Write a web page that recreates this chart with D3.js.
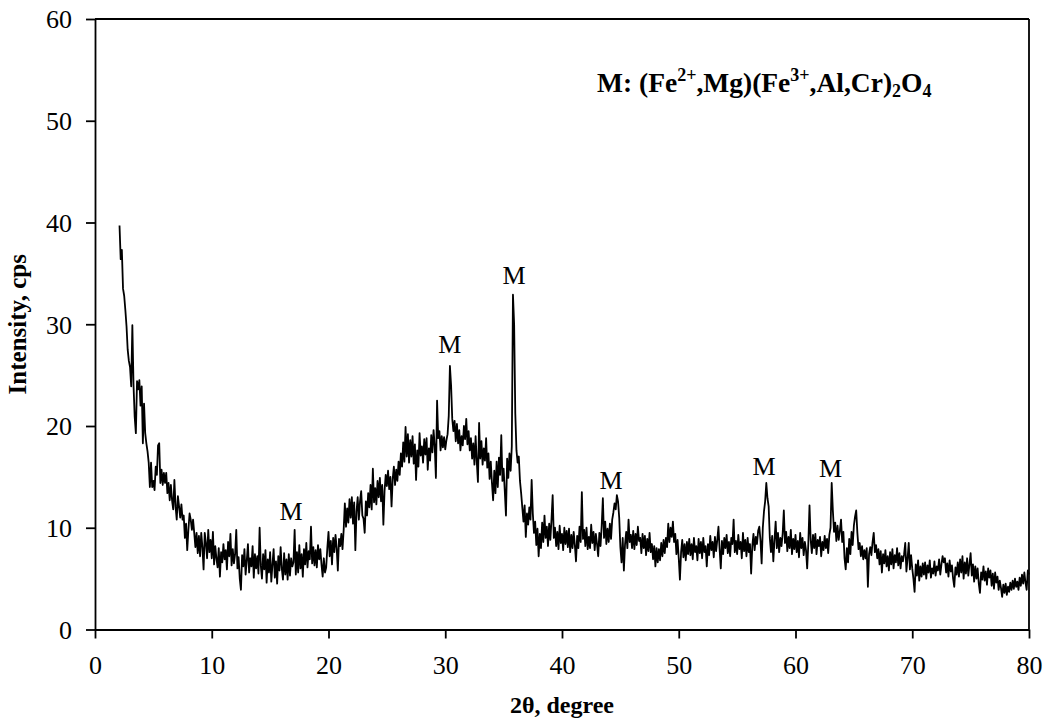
<!DOCTYPE html>
<html><head><meta charset="utf-8">
<script src="https://cdn.jsdelivr.net/npm/d3@7"></script>
<style>body{margin:0;background:#fff} svg{display:block}</style>
</head><body><svg id="c" width="1045" height="722"></svg>
<script>
const xTicks = [0,10,20,30,40,50,60,70,80];
const yTicks = [0,10,20,30,40,50,60];
const xTitle = "2θ, degree";
const yTitle = "Intensity, cps";
const angleStart = 2.1, angleStep = 0.1;
const intensity = [
/* 2.1 */ 39.7,36.4,37.3,33.5,32.8,31.4,29.8,27.5,26.4,
/* 3 */ 25.8,23.9,29.9,24.0,20.9,19.3,24.4,23.6,24.5,22.0,
/* 4 */ 23.9,18.3,22.2,19.3,18.3,17.5,16.4,14.0,16.4,14.0,
/* 5 */ 14.6,13.7,16.0,15.2,18.1,18.3,14.4,15.7,14.2,15.4,
/* 6 */ 14.4,15.4,13.4,14.4,12.7,14.2,12.7,11.8,14.7,12.1,
/* 7 */ 10.8,13.1,12.1,11.0,12.3,10.8,11.2,9.0,10.4,7.8,
/* 8 */ 9.8,11.4,10.8,9.8,10.8,9.5,8.1,9.5,7.5,9.2,
/* 9 */ 7.2,9.5,8.1,5.9,9.5,8.5,7.0,9.8,7.6,8.8,
/* 10 */ 7.0,9.6,6.4,8.2,7.0,6.1,8.0,5.2,7.6,6.6,
/* 11 */ 8.4,6.9,7.8,5.9,8.6,7.2,9.4,6.3,7.9,6.5,
/* 12 */ 7.4,9.8,6.0,7.1,5.0,3.9,7.3,6.2,7.9,5.4,
/* 13 */ 6.8,8.4,5.6,7.0,6.2,8.2,5.1,7.4,6.0,7.2,
/* 14 */ 5.5,10.0,6.3,5.0,7.4,5.9,7.8,4.6,6.9,5.6,
/* 15 */ 7.6,4.7,6.4,7.9,5.1,6.7,4.5,7.2,5.8,8.1,
/* 16 */ 6.0,4.9,7.5,5.4,6.9,4.9,7.4,5.3,7.0,6.2,
/* 17 */ 6.6,9.8,5.4,7.6,5.6,8.3,6.0,7.4,5.2,7.9,
/* 18 */ 6.4,8.5,6.1,7.7,6.9,10.1,6.5,8.1,6.3,7.8,
/* 19 */ 6.1,8.3,6.9,7.9,6.4,5.2,7.0,5.6,6.1,8.0,
/* 20 */ 9.6,7.2,8.7,6.4,9.0,7.6,9.3,8.0,5.8,8.9,
/* 21 */ 8.2,9.4,7.9,9.8,12.4,10.1,11.9,10.5,12.8,11.0,
/* 22 */ 13.0,10.4,12.5,7.8,11.6,13.0,10.8,12.6,13.6,11.2,
/* 23 */ 10.9,9.5,12.6,11.2,13.4,12.0,14.2,11.8,15.8,12.5,
/* 24 */ 13.9,12.3,14.6,13.0,14.9,12.6,14.2,10.3,13.6,15.2,
/* 25 */ 14.1,15.6,13.8,15.0,12.1,14.8,16.0,14.2,15.7,14.6,
/* 26 */ 16.5,15.2,17.3,16.0,18.4,16.5,19.9,17.0,19.2,16.4,
/* 27 */ 18.6,17.0,19.0,16.3,18.2,14.7,17.6,16.0,19.3,17.1,
/* 28 */ 18.0,16.4,18.7,17.2,18.8,15.7,17.8,16.6,19.1,17.4,
/* 29 */ 19.6,18.0,14.9,22.5,18.8,19.5,17.6,19.0,17.9,18.9,
/* 30 */ 17.7,18.6,19.2,21.0,25.9,24.0,20.7,19.5,20.5,18.5,
/* 31 */ 20.2,18.3,19.6,17.6,19.0,18.1,20.0,18.7,20.7,18.2,
/* 32 */ 19.5,17.6,18.8,16.8,18.3,16.2,19.0,16.5,14.5,20.3,
/* 33 */ 16.8,18.5,16.2,17.8,16.6,18.8,15.9,17.3,14.8,16.5,
/* 34 */ 14.4,12.7,15.6,13.4,16.5,14.0,16.9,15.2,19.1,14.6,
/* 35 */ 15.8,13.6,11.2,16.8,14.9,17.3,15.6,18.0,32.9,30.0,
/* 36 */ 21.2,17.6,16.4,17.0,14.6,13.4,12.0,10.6,12.2,9.1,
/* 37 */ 11.4,10.3,12.0,10.8,14.7,11.4,9.5,10.6,8.3,9.9,
/* 38 */ 7.2,9.4,8.0,10.5,8.6,11.2,9.0,10.1,8.2,10.4,
/* 39 */ 8.8,10.8,13.2,9.0,10.0,8.2,9.6,7.9,10.2,8.5,
/* 40 */ 9.4,7.8,10.0,8.4,9.7,8.1,9.9,7.6,9.3,8.0,
/* 41 */ 9.6,8.3,6.7,9.2,8.0,10.1,8.6,13.5,8.9,9.8,
/* 42 */ 8.2,10.0,7.9,9.1,8.0,10.3,8.5,9.6,7.8,9.4,
/* 43 */ 8.4,7.2,9.5,8.2,10.2,12.9,9.0,10.6,8.4,9.9,
/* 44 */ 8.6,10.4,8.9,10.8,11.5,12.4,11.8,13.2,12.6,11.0,
/* 45 */ 8.1,6.6,9.0,5.8,8.4,9.6,8.0,10.8,8.6,9.3,
/* 46 */ 8.0,9.7,7.9,9.4,8.3,10.1,8.7,9.0,7.5,9.4,
/* 47 */ 8.0,9.2,7.3,8.9,7.7,9.5,7.6,8.4,6.9,8.2,
/* 48 */ 6.2,8.0,6.6,7.9,6.8,8.5,7.2,8.8,7.5,9.0,
/* 49 */ 8.1,10.4,8.6,10.0,9.1,10.6,8.6,9.4,7.4,8.8,
/* 50 */ 7.0,4.9,7.6,8.8,7.1,8.4,6.8,8.6,7.4,8.9,
/* 51 */ 7.3,8.4,6.9,9.0,7.6,8.2,6.8,8.9,7.5,8.6,
/* 52 */ 7.0,9.0,7.6,8.2,6.2,8.4,7.3,9.2,7.8,8.6,
/* 53 */ 7.1,9.1,7.7,8.8,10.1,7.9,6.0,8.7,7.4,9.0,
/* 54 */ 8.0,9.3,7.5,8.6,7.2,9.0,8.4,10.8,7.6,8.7,
/* 55 */ 7.4,9.3,7.9,8.6,7.0,9.5,7.7,8.8,7.2,9.0,
/* 56 */ 7.6,8.4,5.5,8.2,9.4,7.8,9.1,8.4,9.7,10.1,
/* 57 */ 8.8,6.5,10.0,11.6,12.6,14.4,12.9,12.1,9.0,7.6,
/* 58 */ 9.2,6.7,8.8,10.6,8.0,9.5,7.6,9.0,8.2,9.4,
/* 59 */ 11.7,8.5,9.6,7.7,9.1,8.0,9.8,7.4,8.9,7.9,
/* 60 */ 9.3,7.6,8.7,7.1,9.5,8.0,9.0,7.3,8.6,7.8,
/* 61 */ 6.0,8.5,12.2,8.8,7.5,9.3,8.0,9.4,7.4,8.8,
/* 62 */ 8.2,9.1,7.2,8.6,7.8,9.2,8.0,8.9,7.5,9.3,
/* 63 */ 10.0,14.4,11.7,9.6,10.5,8.7,10.2,8.8,9.7,10.8,
/* 64 */ 8.6,9.6,7.0,5.9,8.0,6.6,8.9,7.4,9.6,8.3,
/* 65 */ 10.2,11.1,11.7,9.5,7.9,8.5,7.2,8.2,6.9,7.8,
/* 66 */ 7.0,8.0,4.2,7.4,8.1,7.3,8.6,9.5,7.6,8.3,
/* 67 */ 7.0,7.9,6.4,7.7,5.6,7.4,6.5,7.8,6.2,7.2,
/* 68 */ 5.8,7.6,6.4,7.9,6.0,7.3,6.6,8.0,6.3,7.5,
/* 69 */ 6.0,7.2,6.7,7.4,8.5,5.7,7.0,8.5,5.9,7.3,
/* 70 */ 6.0,5.0,3.7,6.4,5.3,6.8,4.8,6.2,5.2,6.5,
/* 71 */ 5.4,6.6,5.0,6.3,5.6,6.8,5.1,6.0,5.5,6.7,
/* 72 */ 5.3,6.2,5.8,6.9,5.4,6.4,7.2,6.6,7.0,5.6,
/* 73 */ 6.5,5.2,6.8,5.7,6.3,5.0,4.2,6.1,5.4,6.6,
/* 74 */ 5.2,6.9,5.6,7.2,5.0,6.6,5.5,7.0,5.3,6.4,
/* 75 */ 7.5,5.3,6.4,4.7,6.2,5.0,6.0,4.5,3.6,5.6,
/* 76 */ 4.9,6.2,4.8,5.7,4.4,6.0,5.1,5.8,4.3,5.5,
/* 77 */ 4.0,5.6,4.6,5.2,3.9,4.8,4.1,3.2,4.4,3.6,
/* 78 */ 4.5,3.4,4.2,3.7,4.6,3.9,4.8,4.0,5.0,4.2,
/* 79 */ 4.7,3.9,5.1,4.3,5.4,4.5,5.6,4.6,3.9,5.8,
/* 80 */ 5.4
];
const peakLabelAngles = [16.8, 30.4, 35.9, 44.2, 57.3, 63.0];
const peakLabelLevels = [10.8, 27.2, 34.0, 13.8, 15.2, 15.0];
const peakLabelText = "M";

const svg = d3.select("#c");
const pLeft = 95, pRight = 1029, pTop = 19, pBottom = 629.5;
const serif = "'Liberation Serif','Times New Roman',serif";

const x = d3.scaleLinear().domain([0, 80]).range([pLeft, pRight]);
const y = d3.scaleLinear().domain([0, 60]).range([pBottom, pTop]);

const pts = intensity.map((v, i) => [angleStart + i * angleStep, v]);

// frame top/right
svg.append("line").attr("x1", pLeft).attr("x2", pRight).attr("y1", pTop).attr("y2", pTop)
  .attr("stroke", "#000").attr("stroke-width", 1.8);
svg.append("line").attr("x1", pRight).attr("x2", pRight).attr("y1", pTop).attr("y2", pBottom)
  .attr("stroke", "#000").attr("stroke-width", 1.8);

const gx = svg.append("g").attr("transform", `translate(0,${pBottom})`)
  .call(d3.axisBottom(x).tickValues(xTicks).tickSize(9).tickSizeOuter(0).tickFormat(d3.format("d")));
const gy = svg.append("g").attr("transform", `translate(${pLeft},0)`)
  .call(d3.axisLeft(y).tickValues(yTicks).tickSize(9).tickSizeOuter(0).tickPadding(14).tickFormat(d3.format("d")));

[gx, gy].forEach(g => {
  g.selectAll("path.domain").attr("stroke", "#000").attr("stroke-width", 1.8);
  g.selectAll(".tick line").attr("stroke", "#000").attr("stroke-width", 1.8);
  g.selectAll("text").attr("fill", "#000").attr("font-family", serif).attr("font-size", 26);
});
gx.selectAll("text").attr("dy", null).attr("y", 44);
gy.selectAll("text").attr("dy", "0.34em");

// data line
svg.append("path").datum(pts)
  .attr("fill", "none").attr("stroke", "#000").attr("stroke-width", 1.8)
  .attr("stroke-linejoin", "round")
  .attr("d", d3.line().x(d => x(d[0])).y(d => y(d[1])));

// peak labels
svg.append("g").selectAll("text").data(peakLabelAngles).join("text")
  .attr("x", d => x(d)).attr("y", (d, i) => y(peakLabelLevels[i]))
  .attr("text-anchor", "middle").attr("font-family", serif).attr("font-size", 26)
  .text(peakLabelText);

// axis titles
svg.append("text").attr("x", (pLeft + pRight) / 2).attr("y", 713)
  .attr("text-anchor", "middle").attr("font-family", serif).attr("font-weight", "bold")
  .attr("font-size", 24).text(xTitle);
svg.append("text").attr("transform", `translate(26,${(pTop + pBottom) / 2}) rotate(-90)`)
  .attr("text-anchor", "middle").attr("font-family", serif).attr("font-weight", "bold")
  .attr("font-size", 25).text(yTitle);

// formula annotation
const ann = svg.append("text").attr("x", 597).attr("y", 92)
  .attr("font-family", serif).attr("font-weight", "bold").attr("font-size", 27.5);
const parts = [
  ["M: (Fe", 0, 27.5], ["2+", -11, 18], [",Mg)(Fe", 11, 27.5], ["3+", -11, 18],
  [",Al,Cr)", 11, 27.5], ["2", 5, 18], ["O", -5, 27.5], ["4", 5, 18]
];
parts.forEach(([t, dy, fs]) => ann.append("tspan").attr("dy", dy).attr("font-size", fs).text(t));
</script></body></html>
